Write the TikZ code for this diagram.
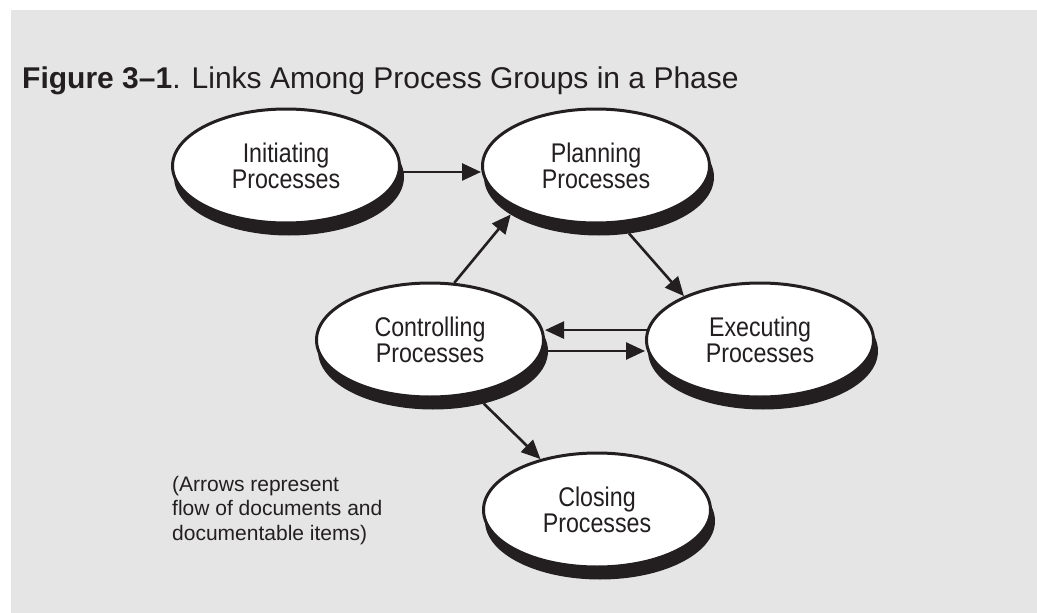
\documentclass[tikz,border=0pt]{standalone}
\usepackage{fontspec}
\setmainfont{Liberation Sans}
\newfontfamily\ellfont[FakeStretch=0.86]{Liberation Sans}
\usetikzlibrary{shapes.geometric,arrows.meta,calc}
\definecolor{bg}{HTML}{E5E5E5}
\definecolor{ink}{HTML}{231F20}
\begin{document}
\begin{tikzpicture}[x=1pt,y=-1pt,
  proc/.style={ellipse, draw=ink, line width=3pt, fill=white,
    minimum width=227pt, minimum height=114pt, inner sep=0pt,
    align=center, text=ink, font=\ellfont\fontsize{27}{26}\selectfont},
  shade/.style={ellipse, draw=ink, fill=ink, line width=3pt,
    minimum width=227pt, minimum height=114pt, inner sep=0pt},
  arr/.style={draw=ink, line width=2.6pt, -{Triangle[length=19pt,width=17pt]}}]
\useasboundingbox (0,0) rectangle (1037,613);
\fill[bg] (11,10) rectangle (1037,613);
% title
\node[anchor=base west, inner sep=0pt, text=ink, font=\fontsize{30}{34}\selectfont]
  (title) at (22,88) {\textbf{Figure 3--1}. Links Among Process Groups in a Phase};
% shadows
\node[shade] (initS)  at (289,177) {};
\node[shade] (planS)  at (599,177) {};
\node[shade] (ctrlS)  at (433,351) {};
\node[shade] (execS)  at (763,351) {};
\node[shade] (closeS) at (600,521) {};
% ellipses
\node[proc] (init)  at (286,166) {Initiating\\Processes};
\node[proc] (plan)  at (596,166) {Planning\\Processes};
\node[proc] (ctrl)  at (430,340) {Controlling\\Processes};
\node[proc] (exec)  at (760,340) {Executing\\Processes};
\node[proc] (close) at (597,510) {Closing\\Processes};
% arrows
\draw[arr] (init.-3) -- (init.-3 -| plan.west);
\draw[arr] (ctrl.67) -- (planS.203);
\draw[arr] (planS.-62) -- (exec.150);
\draw[arr] (exec.175) -- (exec.175 -| ctrl.east);
\draw[arr] (ctrlS.east) -- (ctrlS.east -| exec.west);
\draw[arr] (ctrlS.-46) -- (close.138);
% note
\node[anchor=base west, align=left, inner sep=0pt, text=ink,
  font=\fontsize{21}{24.5}\selectfont] (note) at (172,540)
  {(Arrows represent\\flow of documents and\\documentable items)};
\end{tikzpicture}
\end{document}
